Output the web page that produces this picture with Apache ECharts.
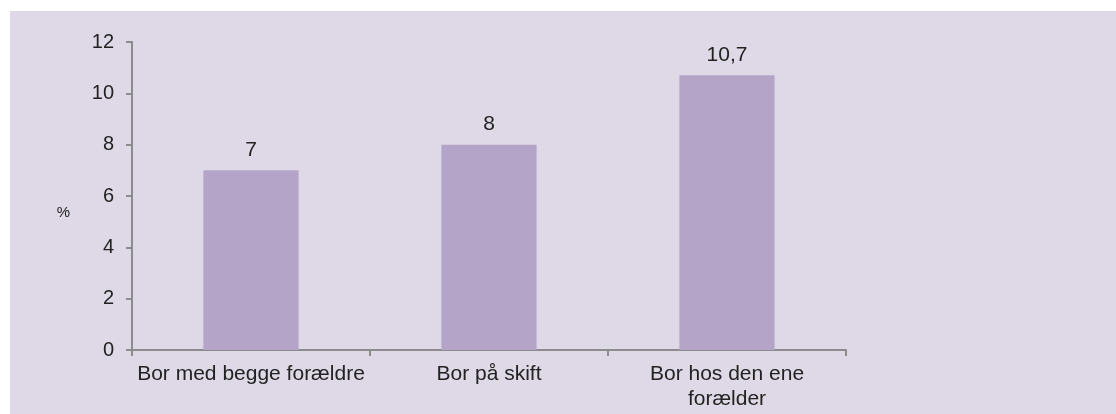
<!DOCTYPE html>
<html>
<head>
<meta charset="utf-8">
<script src="https://cdn.jsdelivr.net/npm/echarts@6/dist/echarts.min.js"></script>
<style>
html,body{margin:0;padding:0;background:#ffffff;}
#chart{position:absolute;left:10px;top:11px;width:1106px;height:403px;}
</style>
</head>
<body>
<div id="chart"></div>
<script>
const categories = ["Bor med begge forældre", "Bor på skift", "Bor hos den ene\nforælder"];
const values = [7, 8, 10.7];
const yTicks = [0, 2, 4, 6, 8, 10, 12];
const yAxisName = "%";

const chart = echarts.init(document.getElementById('chart'));
const axisGray = '#8c8c8c';
const font = 'Liberation Sans, Arial, sans-serif';
chart.setOption({
  backgroundColor: '#dfd9e7',
  animation: false,
  grid: {left: 122, top: 31, right: 270, bottom: 64, containLabel: false},
  xAxis: {
    type: 'category',
    data: categories,
    axisLine: {lineStyle: {color: axisGray, width: 2}},
    axisTick: {show: true, length: 6, lineStyle: {color: axisGray, width: 2}, alignWithLabel: false},
    axisLabel: {color: '#222', fontSize: 21, fontFamily: font, margin: 12, lineHeight: 25, interval: 0}
  },
  yAxis: {
    type: 'value',
    min: yTicks[0], max: yTicks[yTicks.length - 1], interval: 2,
    name: '{p|' + yAxisName + '}',
    nameLocation: 'middle',
    nameGap: 62,
    nameRotate: 0,
    nameTextStyle: {
      color: '#222', fontSize: 15, fontFamily: font,
      rich: {p: {color: '#222', fontSize: 15, fontFamily: font, padding: [34, 0, 0, 0]}}
    },
    axisLine: {show: true, lineStyle: {color: axisGray, width: 2}},
    axisTick: {show: true, length: 6, lineStyle: {color: axisGray, width: 2}},
    splitLine: {show: false},
    axisLabel: {color: '#222', fontSize: 20, fontFamily: font, margin: 18}
  },
  series: [{
    type: 'bar',
    data: values,
    barWidth: '40%',
    itemStyle: {color: '#b3a4c8'},
    label: {
      show: true, position: 'top', distance: 10,
      color: '#222', fontSize: 21, fontFamily: font,
      formatter: p => String(p.value).replace('.', ',')
    }
  }]
});
</script>
</body>
</html>
